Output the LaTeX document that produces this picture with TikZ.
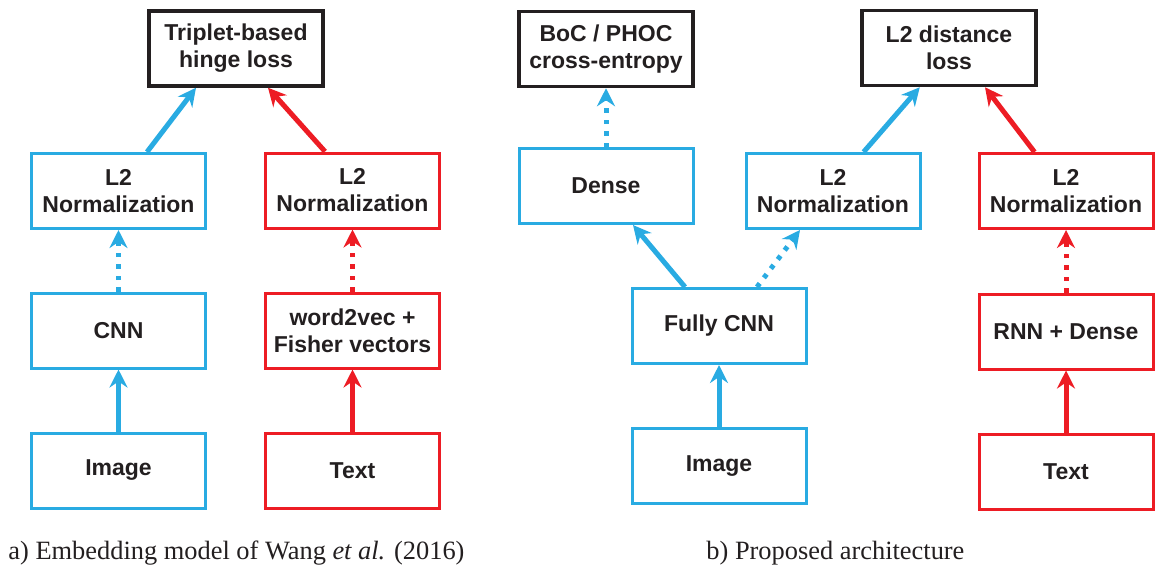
\documentclass[tikz,border=0pt]{standalone}
\usepackage{fontspec}
\setmainfont{Liberation Serif}
\setsansfont{Liberation Sans}
\usepackage{tikz}
\usetikzlibrary{arrows.meta}
\usetikzlibrary{positioning}
\definecolor{imgblue}{HTML}{29ABE2}
\definecolor{txtred}{HTML}{ED1C24}
\definecolor{lossblack}{HTML}{231F20}

\tikzset{
  block/.style={rectangle, minimum width=87pt, minimum height=37.5pt, align=center,
    line width=1.5pt, inner sep=2pt, text=lossblack,
    font=\sffamily\bfseries\fontsize{11.5}{13.5}\selectfont},
  imgbox/.style={block, draw=imgblue},
  txtbox/.style={block, draw=txtred},
  lossbox/.style={block, draw=lossblack, line width=1.75pt},
  imgline/.style={draw=imgblue, line width=2.5pt},
  txtline/.style={draw=txtred, line width=2.5pt},
  skip/.style={dash pattern=on 2.25pt off 3.5pt},
  capt/.style={anchor=base west, inner sep=0pt, text=lossblack,
    font=\rmfamily\fontsize{13.2}{15}\selectfont}
}

\begin{document}
\begin{tikzpicture}[node distance=70pt,on grid,>={Stealth[length=9pt,width=9pt,inset=3pt]}]
        \useasboundingbox (0pt,0pt) rectangle (578pt,-284pt);

        \node[imgbox] (a_img) at (59.25pt,-235.25pt) {Image};
        \node[imgbox] (a_cnn) [above=of a_img] {CNN};
        \node[imgbox] (a_norm) [above=69.75pt of a_cnn] {L2\\Normalization};
        \node[lossbox] (a_loss) [above right=71.25pt and 58.75pt of a_norm] {Triplet-based\\hinge loss};

        \node[txtbox] (a_txt) [right=117pt of a_img] {Text};
        \node[txtbox] (a_w2v) [above=of a_txt] {word2vec +\\Fisher vectors};
        \node[txtbox] (a_normt) [above=of a_w2v] {L2\\Normalization};

        \node[imgbox] (b_img) at (359.5pt,-233pt) {Image};
        \node[imgbox] (b_cnn) [above=of b_img] {Fully CNN};
        \node[imgbox] (b_dense) [above left=70pt and 56.5pt of b_cnn] {Dense};
        \node[lossbox] (b_boc) [above=68.5pt of b_dense] {BoC / PHOC\\cross-entropy};
        \node[imgbox] (b_norm) [above right=67.5pt and 57pt of b_cnn] {L2\\Normalization};
        \node[lossbox] (b_loss) [above right=71.5pt and 58pt of b_norm] {L2 distance\\loss};

        \node[txtbox] (b_txt) at (533pt,-235.75pt) {Text};
        \node[txtbox] (b_rnn) [above=of b_txt] {RNN + Dense};
        \node[txtbox] (b_normt) [above=70.25pt of b_rnn] {L2\\Normalization};

        \node[capt] (cap_a) at (4pt,-279.7pt) {a) Embedding model of Wang \emph{et al.} (2016)};
        \node[capt] (cap_b) at (353pt,-279.7pt) {b) Proposed architecture};

        \path[->]
        (a_img) edge[imgline] (a_cnn)
        (a_cnn) edge[imgline, skip] (a_norm)
        ([xshift=14.25pt]a_norm.north) edge[imgline] ([xshift=-20pt]a_loss.south)

        (a_txt) edge[txtline] (a_w2v)
        (a_w2v) edge[txtline, skip] (a_normt)
        ([xshift=-13.75pt]a_normt.north) edge[txtline] ([xshift=16pt]a_loss.south)

        (b_img) edge[imgline] (b_cnn)
        ([xshift=-17pt]b_cnn.north) edge[imgline] ([xshift=13.5pt]b_dense.south)
        ([xshift=19pt]b_cnn.north) edge[imgline, skip] ([xshift=-16.5pt]b_norm.south)
        (b_dense) edge[imgline, skip] (b_boc)
        ([xshift=15.3pt]b_norm.north) edge[imgline] ([xshift=-14.6pt]b_loss.south)

        (b_txt) edge[txtline] (b_rnn)
        (b_rnn) edge[txtline, skip] (b_normt)
        ([xshift=-15.75pt]b_normt.north) edge[txtline] ([xshift=18pt]b_loss.south)
        ;
      \end{tikzpicture}
\end{document}
